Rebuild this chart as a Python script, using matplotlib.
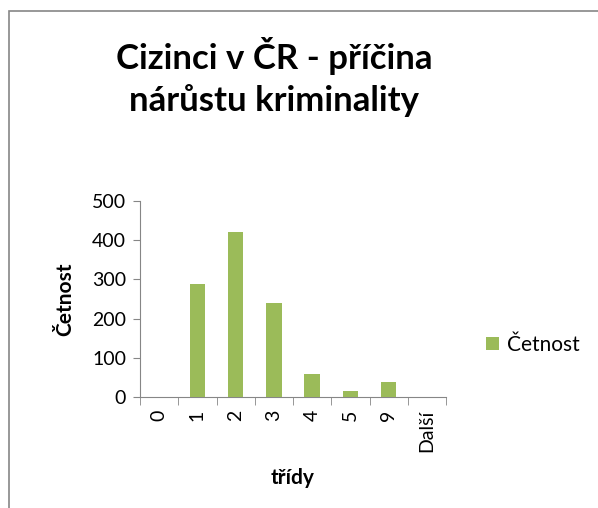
import matplotlib
matplotlib.use("Agg")
import matplotlib.pyplot as plt
from matplotlib.patches import Rectangle
from matplotlib.ticker import FixedLocator

categories = ["0", "1", "2", "3", "4", "5", "9", "Další"]
counts = [0, 288, 420, 240, 58, 15, 39, 0]
series_name = "Četnost"

GREEN = "#9BBB59"
AXIS_GRAY = "#868686"
plt.rcParams["font.family"] = ["Lato", "DejaVu Sans"]

fig = plt.figure(figsize=(5.98, 5.08), dpi=100)
ax = fig.add_axes([140 / 598, 1 - 397 / 508, 306 / 598, 196 / 508])

x = list(range(len(categories)))
ax.bar(x, counts, width=0.4, color=GREEN, label=series_name, zorder=3)

ax.set_xlim(-0.5, len(categories) - 0.5)
ax.set_ylim(0, 500)
ax.set_yticks(range(0, 501, 100))
ax.set_xticks(x)
ax.set_xticklabels(categories, rotation=90, fontsize=14)
ax.tick_params(axis="x", which="major", length=0, pad=9)
ax.xaxis.set_minor_locator(FixedLocator([i - 0.5 for i in range(len(categories) + 1)]))
ax.tick_params(axis="x", which="minor", length=6, color=AXIS_GRAY, direction="out")
ax.tick_params(axis="y", length=5, color=AXIS_GRAY, labelsize=14, pad=5)

for side in ("top", "right"):
    ax.spines[side].set_visible(False)
for side in ("left", "bottom"):
    ax.spines[side].set_color(AXIS_GRAY)

ax.set_ylabel("Četnost", fontsize=15, fontweight="bold", labelpad=12)
ax.set_xlabel("třídy", fontsize=15, fontweight="bold", labelpad=12)

fig.text(274 / 598, 1 - 77 / 508, "Cizinci v ČR - příčina\nnárůstu kriminality",
         ha="center", va="center", fontsize=25, fontweight="bold", linespacing=1.3)

ax.legend(loc="center left", bbox_to_anchor=((478 - 140) / 306, (397 - 345) / 196),
          frameon=False, fontsize=15, handlelength=0.6, handleheight=0.6,
          handletextpad=0.4, borderaxespad=0)

# chart-area frame (Excel style), running off the right/bottom edge
fig.patches.append(Rectangle((9 / 598, -0.05), 1.2, 1 - 11 / 508 + 0.05,
                             transform=fig.transFigure, fill=False,
                             edgecolor=AXIS_GRAY, linewidth=1.2))

fig.savefig("out.png", dpi=100)
